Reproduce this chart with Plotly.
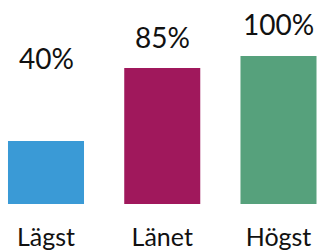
import plotly.graph_objects as go

categories = ["Lägst", "Länet", "Högst"]
bar_heights = [42.6, 91.9, 100]          # bar heights as drawn (relative)
value_labels = ["40%", "85%", "100%"]
colors = ["#3A9AD6", "#A0185C", "#56A17C"]

# label vertical positions (data units of y axis)
label_y = [86, 100, 109]

FONT = "Lato"

fig = go.Figure(go.Bar(
    x=categories, y=bar_heights,
    marker=dict(color=colors, line=dict(width=0)),
    hoverinfo="skip",
))

for c, lab, ly in zip(categories, value_labels, label_y):
    fig.add_annotation(x=c, y=ly, text=lab, showarrow=False, yanchor="bottom",
                       xanchor="center", font=dict(family=FONT, size=28, color="#111"))

fig.update_layout(
    width=318, height=251,
    margin=dict(l=0, r=0, t=0, b=47),
    paper_bgcolor="white", plot_bgcolor="white",
    bargap=0.346,
    showlegend=False,
    xaxis=dict(type="category", range=[-0.3957, 2.3398], showgrid=False, zeroline=False,
               showline=False, ticks="", tickfont=dict(family=FONT, size=25, color="#111"),
               ticklabelstandoff=16),
    yaxis=dict(range=[0, 137.8], visible=False),
)

fig.write_html("out.html", config={"displayModeBar": False},
               post_script="document.body.style.margin='0';document.body.style.padding='0';")
